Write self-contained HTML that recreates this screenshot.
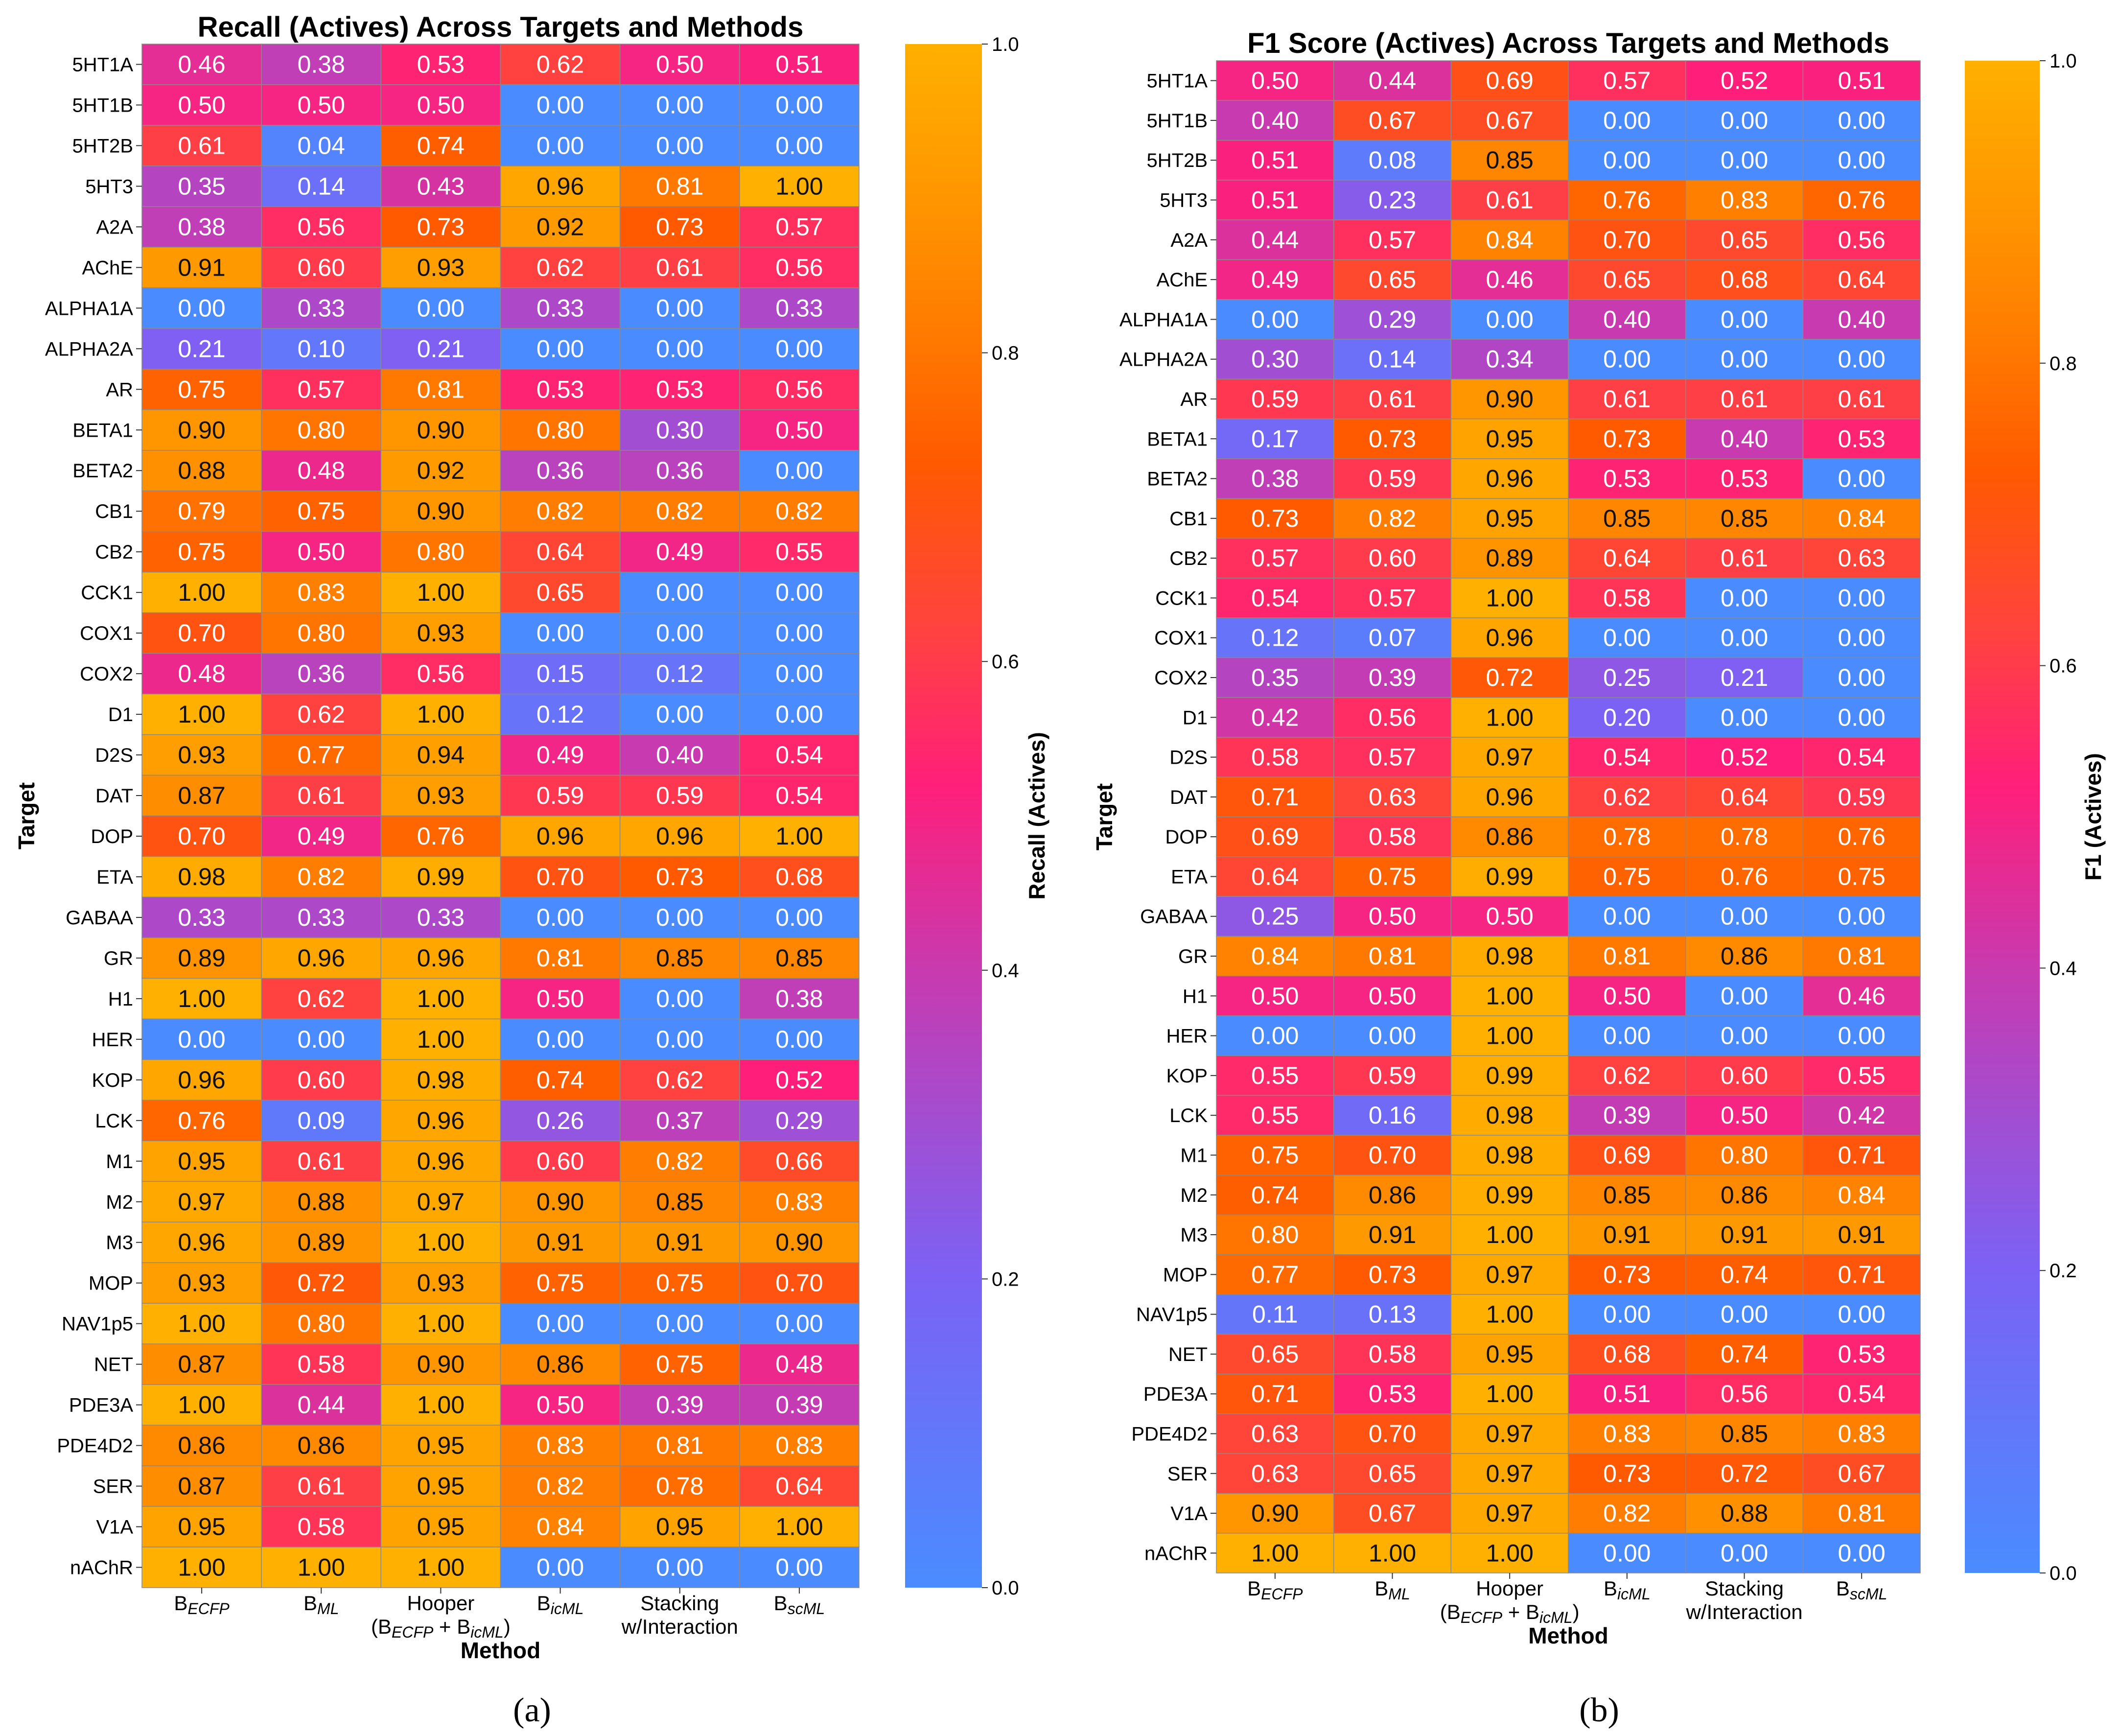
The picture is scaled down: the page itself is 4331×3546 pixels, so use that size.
<!DOCTYPE html>
<html><head><meta charset="utf-8">
<style>html,body{margin:0;padding:0;background:#fff}svg{display:block}</style></head>
<body>
<svg id="chart" width="4331" height="3546" viewBox="0 0 4331 3546" xmlns="http://www.w3.org/2000/svg" font-family="Liberation Sans, sans-serif"></svg>
<script>
const targets = ["5HT1A","5HT1B","5HT2B","5HT3","A2A","AChE","ALPHA1A","ALPHA2A","AR","BETA1","BETA2","CB1","CB2","CCK1","COX1","COX2","D1","D2S","DAT","DOP","ETA","GABAA","GR","H1","HER","KOP","LCK","M1","M2","M3","MOP","NAV1p5","NET","PDE3A","PDE4D2","SER","V1A","nAChR"];
const methods = ["B_ECFP","B_ML","Hooper","B_icML","Stacking","B_scML"];
const recallValues = [
[.46,.38,.53,.62,.50,.51],[.50,.50,.50,0,0,0],[.61,.04,.74,0,0,0],[.35,.14,.43,.96,.81,1],
[.38,.56,.73,.92,.73,.57],[.91,.60,.93,.62,.61,.56],[0,.33,0,.33,0,.33],[.21,.10,.21,0,0,0],
[.75,.57,.81,.53,.53,.56],[.90,.80,.90,.80,.30,.50],[.88,.48,.92,.36,.36,0],[.79,.75,.90,.82,.82,.82],
[.75,.50,.80,.64,.49,.55],[1,.83,1,.65,0,0],[.70,.80,.93,0,0,0],[.48,.36,.56,.15,.12,0],
[1,.62,1,.12,0,0],[.93,.77,.94,.49,.40,.54],[.87,.61,.93,.59,.59,.54],[.70,.49,.76,.96,.96,1],
[.98,.82,.99,.70,.73,.68],[.33,.33,.33,0,0,0],[.89,.96,.96,.81,.85,.85],[1,.62,1,.50,0,.38],
[0,0,1,0,0,0],[.96,.60,.98,.74,.62,.52],[.76,.09,.96,.26,.37,.29],[.95,.61,.96,.60,.82,.66],
[.97,.88,.97,.90,.85,.83],[.96,.89,1,.91,.91,.90],[.93,.72,.93,.75,.75,.70],[1,.80,1,0,0,0],
[.87,.58,.90,.86,.75,.48],[1,.44,1,.50,.39,.39],[.86,.86,.95,.83,.81,.83],[.87,.61,.95,.82,.78,.64],
[.95,.58,.95,.84,.95,1],[1,1,1,0,0,0]];
const f1Values = [
[.50,.44,.69,.57,.52,.51],[.40,.67,.67,0,0,0],[.51,.08,.85,0,0,0],[.51,.23,.61,.76,.83,.76],
[.44,.57,.84,.70,.65,.56],[.49,.65,.46,.65,.68,.64],[0,.29,0,.40,0,.40],[.30,.14,.34,0,0,0],
[.59,.61,.90,.61,.61,.61],[.17,.73,.95,.73,.40,.53],[.38,.59,.96,.53,.53,0],[.73,.82,.95,.85,.85,.84],
[.57,.60,.89,.64,.61,.63],[.54,.57,1,.58,0,0],[.12,.07,.96,0,0,0],[.35,.39,.72,.25,.21,0],
[.42,.56,1,.20,0,0],[.58,.57,.97,.54,.52,.54],[.71,.63,.96,.62,.64,.59],[.69,.58,.86,.78,.78,.76],
[.64,.75,.99,.75,.76,.75],[.25,.50,.50,0,0,0],[.84,.81,.98,.81,.86,.81],[.50,.50,1,.50,0,.46],
[0,0,1,0,0,0],[.55,.59,.99,.62,.60,.55],[.55,.16,.98,.39,.50,.42],[.75,.70,.98,.69,.80,.71],
[.74,.86,.99,.85,.86,.84],[.80,.91,1,.91,.91,.91],[.77,.73,.97,.73,.74,.71],[.11,.13,1,0,0,0],
[.65,.58,.95,.68,.74,.53],[.71,.53,1,.51,.56,.54],[.63,.70,.97,.83,.85,.83],[.63,.65,.97,.73,.72,.67],
[.90,.67,.97,.82,.88,.81],[1,1,1,0,0,0]];
const cbTicks = [0,0.2,0.4,0.6,0.8,1.0];

const stops=[[0,[74,140,255]],[0.2,[123,98,245]],[0.4,[200,58,175]],[0.52,[255,31,122]],[0.62,[255,66,64]],[0.73,[255,90,0]],[0.82,[255,125,0]],[0.9,[255,150,0]],[1,[255,176,0]]];
function cmap(v){v=Math.max(0,Math.min(1,v));for(let i=1;i<stops.length;i++){if(v<=stops[i][0]){const a=stops[i-1],b=stops[i];const t=(v-a[0])/(b[0]-a[0]);const c=a[1].map((x,k)=>Math.round(x+(b[1][k]-x)*t));return `rgb(${c[0]},${c[1]},${c[2]})`;}}return 'rgb(255,176,0)';}
const NS="http://www.w3.org/2000/svg";const svg=document.getElementById('chart');
function el(tag,attrs,parent,text){const e=document.createElementNS(NS,tag);for(const k in attrs)e.setAttribute(k,attrs[k]);if(text!==undefined)e.textContent=text;(parent||svg).appendChild(e);return e;}
const defs=el('defs',{});
const grad=el('linearGradient',{id:'cbg',x1:0,y1:1,x2:0,y2:0},defs);
stops.forEach(s=>{el('stop',{offset:s[0],'stop-color':cmap(s[0])},grad);});

function xlabel(g,x,y,m){
  const t=el('text',{x:x,y:y,'text-anchor':'middle','font-size':42},g);
  const sub=(base,s)=>{el('tspan',{},t,base);el('tspan',{'font-style':'italic','font-size':32,dy:8},t,s);el('tspan',{dy:-8,'font-size':32},t,'');};
  if(m==='B_ECFP')sub('B','ECFP');else if(m==='B_ML')sub('B','ML');else if(m==='B_icML')sub('B','icML');else if(m==='B_scML')sub('B','scML');
  else if(m==='Hooper'){t.textContent='Hooper';const t2=el('text',{x:x,y:y+48,'text-anchor':'middle','font-size':42},g);
    el('tspan',{},t2,'(B');el('tspan',{'font-style':'italic','font-size':32,dy:8},t2,'ECFP');el('tspan',{dy:-8},t2,' + B');el('tspan',{'font-style':'italic','font-size':32,dy:8},t2,'icML');el('tspan',{dy:-8},t2,')');}
  else {t.textContent='Stacking';el('text',{x:x,y:y+48,'text-anchor':'middle','font-size':42},g,'w/Interaction');}
}

function panel(cfg){
  const g=el('g',{});
  
  
  const {x0,x1,y0,y1,vals}=cfg;const cw=(x1-x0)/methods.length,rh=(y1-y0)/targets.length;
  const xs=j=>x0+j*cw, ys=i=>y0+i*rh;
  const title=el('text',{x:(x0+x1)/2,y:cfg.titleY,'text-anchor':'middle','font-size':58,'font-weight':'bold'},g,cfg.title);
  
  vals.forEach((row,i)=>{row.forEach((v,j)=>{
    const r=el('rect',{x:xs(j),y:ys(i),width:cw,height:rh,fill:cmap(v),stroke:'#8a8a8a','stroke-width':1.5},g);
    
    const t=el('text',{x:xs(j)+cw/2,y:ys(i)+rh/2+17,'text-anchor':'middle','font-size':50,fill:v>=0.85?'#111':'#fff'},g,v.toFixed(2));
    
  });
    const lab=el('text',{x:x0-18,y:ys(i)+rh/2+14,'text-anchor':'end','font-size':40},g,targets[i]);
    
    el('line',{x1:x0-12,x2:x0,y1:ys(i)+rh/2,y2:ys(i)+rh/2,stroke:'#333','stroke-width':2},g);
  });
  methods.forEach((m,j)=>{const cx=xs(j)+cw/2;el('line',{x1:cx,x2:cx,y1:y1,y2:y1+12,stroke:'#333','stroke-width':2},g);
    const lg=el('g',{},g);
    xlabel(lg,cx,y1+46,m);});
  const xt=el('text',{x:(x0+x1)/2,y:y1+144,'text-anchor':'middle','font-size':46,'font-weight':'bold'},g,'Method');
  
  const yt=el('text',{x:0,y:0,transform:`translate(${cfg.yTitleX},${(y0+y1)/2}) rotate(-90)`,'text-anchor':'middle','font-size':46,'font-weight':'bold'},g,'Target');
  
  const cb=el('rect',{x:cfg.cbx0,y:y0,width:cfg.cbx1-cfg.cbx0,height:y1-y0,fill:'url(#cbg)'},g);
  
  cbTicks.forEach(v=>{const y=y1-(y1-y0)*v;el('line',{x1:cfg.cbx1,x2:cfg.cbx1+12,y1:y,y2:y,stroke:'#333','stroke-width':2},g);
    const tl=el('text',{x:cfg.cbx1+20,y:y+14,'font-size':40},g,v.toFixed(1));
    });
  const cl=el('text',{x:0,y:0,transform:`translate(${cfg.cbLabelX},${(y0+y1)/2}) rotate(-90)`,'text-anchor':'middle','font-size':46,'font-weight':'bold'},g,cfg.cbLabel);
  
  const pl=el('text',{x:cfg.plX,y:3516,'text-anchor':'middle','font-size':70,'font-family':'Liberation Serif, serif'},g,cfg.pl);
  
}
panel({name:'recall-heatmap',x0:290,x1:1755,y0:90,y1:3243,vals:recallValues,title:'Recall (Actives) Across Targets and Methods',titleY:75,yTitleX:70,cbx0:1849,cbx1:2006,cbLabel:'Recall (Actives)',cbLabelX:2134,plX:1087,pl:'(a)'});
panel({name:'f1-heatmap',x0:2485,x1:3923,y0:124,y1:3213,vals:f1Values,title:'F1 Score (Actives) Across Targets and Methods',titleY:108,yTitleX:2272,cbx0:4014,cbx1:4167,cbLabel:'F1 (Actives)',cbLabelX:4292,plX:3267,pl:'(b)'});
</script>
</body></html>
